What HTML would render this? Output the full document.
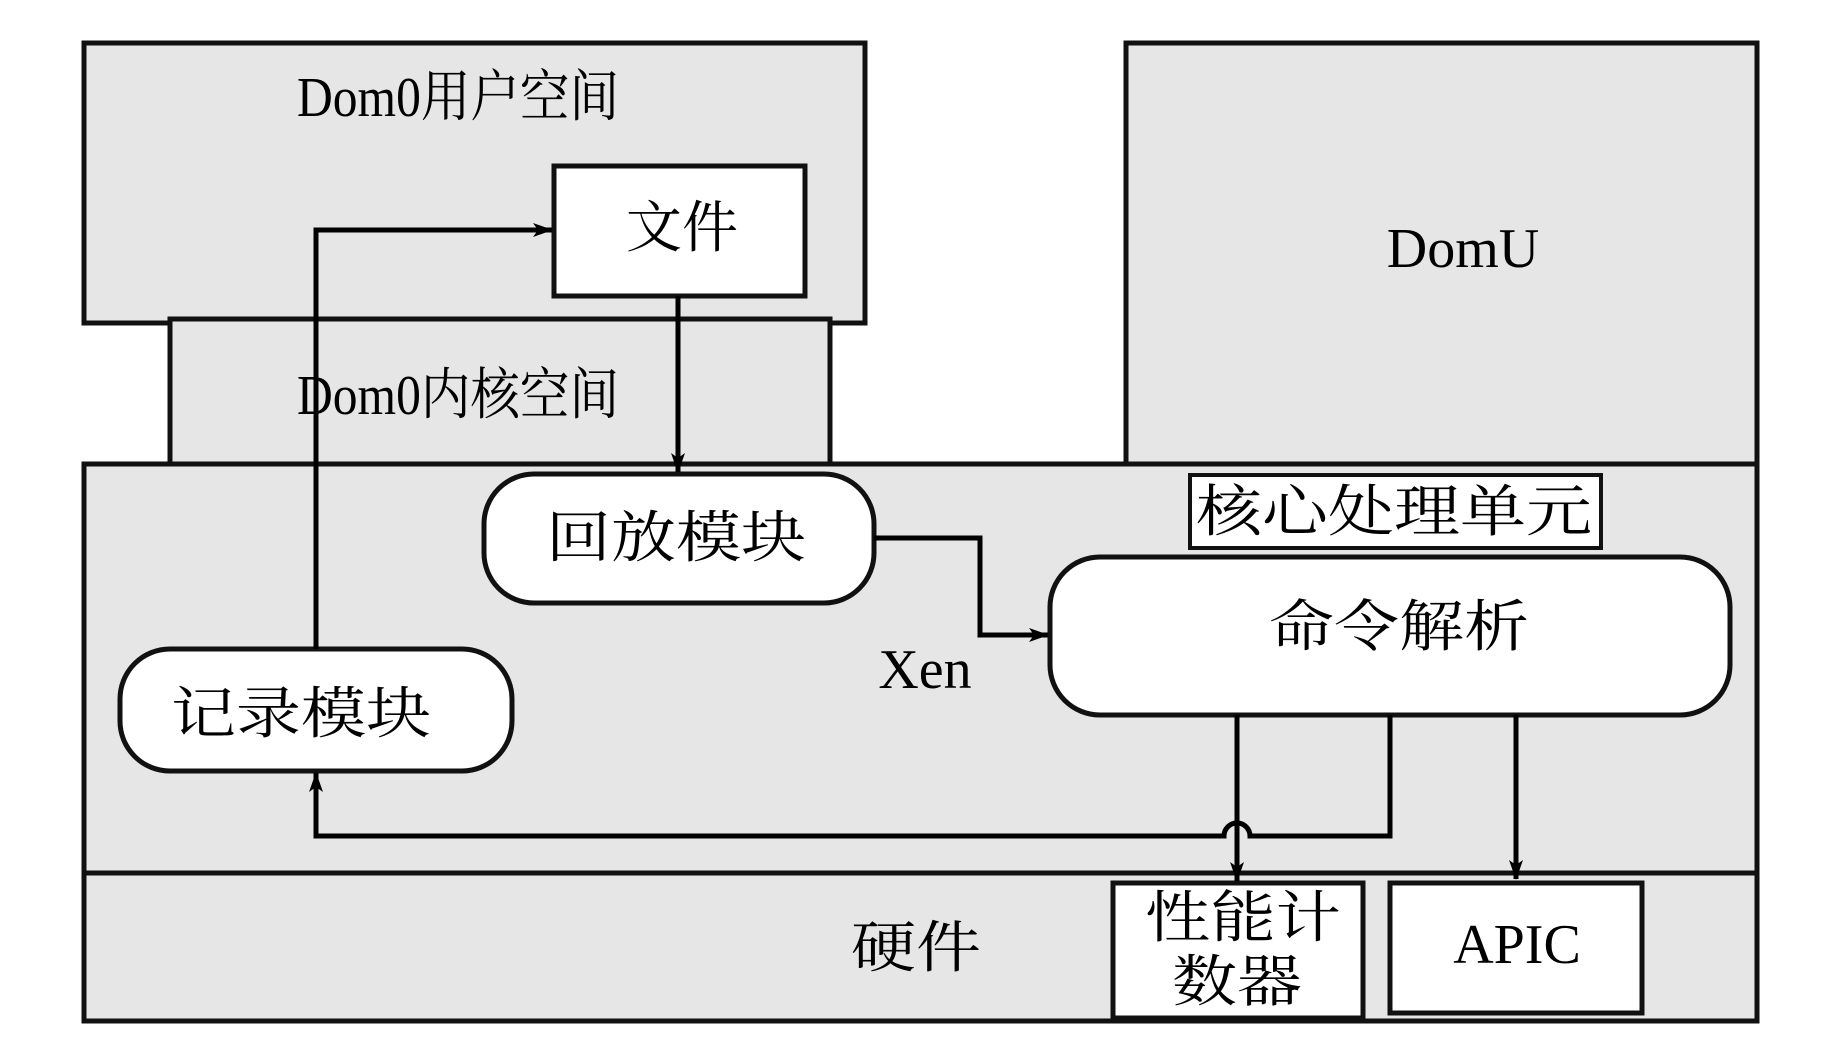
<!DOCTYPE html>
<html><head><meta charset="utf-8"><style>html,body{margin:0;padding:0;background:#fff}svg{display:block}</style></head><body>
<svg width="1843" height="1063" viewBox="0 0 1843 1063" xmlns="http://www.w3.org/2000/svg" font-family="'Liberation Serif','Noto Serif CJK SC',serif" fill="#000">
<defs><marker id="a" viewBox="0 0 20 14" refX="19" refY="7" markerWidth="20" markerHeight="14" markerUnits="userSpaceOnUse" orient="auto"><path d="M0,0 L20,7 L0,14 L5,7 Z"/></marker></defs>
<g stroke="#111" stroke-width="5" fill="#e6e6e6">
<rect x="84" y="43" width="781" height="280"/>
<rect x="1126" y="43" width="631" height="421"/>
<rect x="170" y="319" width="660" height="145"/>
<rect x="84" y="464" width="1673" height="409"/>
<rect x="84" y="873" width="1673" height="148"/>
<rect x="554" y="166" width="251" height="130" fill="#fff"/>
<rect x="1190" y="475" width="411" height="73" fill="#fff" stroke-width="4"/>
<rect x="1113" y="883" width="250" height="135" fill="#fff"/>
<rect x="1390" y="883" width="252" height="130" fill="#fff"/>
<rect x="484" y="474" width="390" height="129" rx="50" fill="#fff"/>
<rect x="1050" y="557" width="680" height="158" rx="50" fill="#fff"/>
<rect x="120" y="649" width="392" height="122" rx="50" fill="#fff"/>
</g>
<g stroke="#000" stroke-width="5" fill="none">
<path d="M316,649 V230 H552" marker-end="url(#a)"/>
<path d="M678,296 V472" marker-end="url(#a)"/>
<path d="M874,538 H980 V635 H1048" marker-end="url(#a)"/>
<path d="M1237,715 V881" marker-end="url(#a)"/>
<path d="M1516,715 V879" marker-end="url(#a)"/>
<path d="M1390,715 V836 H1250 A13,13 0 0 0 1224,836 H316 V773" marker-end="url(#a)"/>
</g>
<g font-size="56" text-anchor="middle">
<text x="458" y="116" textLength="322" lengthAdjust="spacingAndGlyphs">Dom0用户空间</text>
<text x="458" y="414" textLength="322" lengthAdjust="spacingAndGlyphs">Dom0内核空间</text>
<text x="682" y="247">文件</text>
<text x="1463" y="267">DomU</text>
<text x="676" y="557" textLength="260" lengthAdjust="spacingAndGlyphs">回放模块</text>
<text x="1394" y="531" textLength="396" lengthAdjust="spacingAndGlyphs">核心处理单元</text>
<text x="1399" y="646" textLength="260" lengthAdjust="spacingAndGlyphs">命令解析</text>
<text x="925" y="688">Xen</text>
<text x="301" y="733" textLength="260" lengthAdjust="spacingAndGlyphs">记录模块</text>
<text x="916" y="967" textLength="130" lengthAdjust="spacingAndGlyphs">硬件</text>
<text x="1243" y="937" textLength="196" lengthAdjust="spacingAndGlyphs">性能计</text>
<text x="1237" y="1001" textLength="130" lengthAdjust="spacingAndGlyphs">数器</text>
<text x="1517" y="963">APIC</text>
</g>
</svg>
</body></html>
